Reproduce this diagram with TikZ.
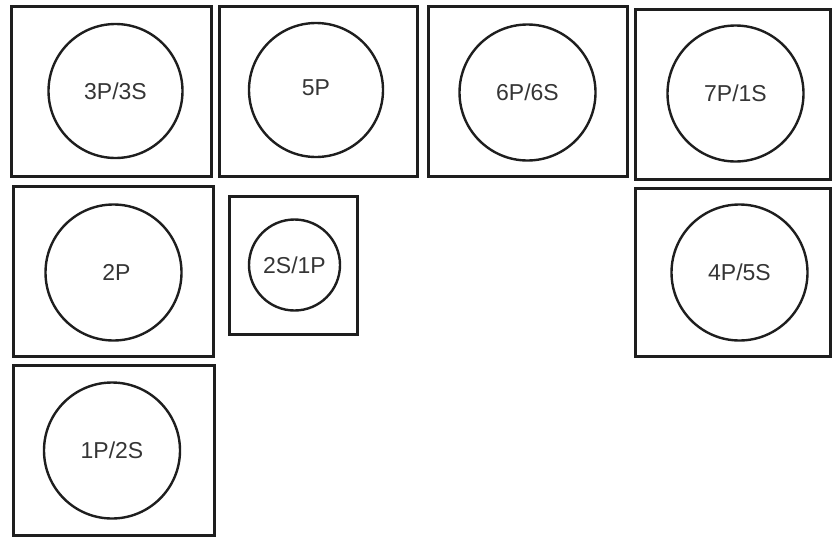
\documentclass[tikz,border=0pt]{standalone}
\usepackage{fontspec}
\setmainfont{Liberation Sans}
\definecolor{ink}{HTML}{1E1E1E}
\begin{document}
\begin{tikzpicture}[x=1pt,y=-1pt,
  box/.style={draw=ink,line width=3pt,rectangle,inner sep=0pt},
  ring/.style={draw=ink,line width=2.4pt,circle,inner sep=0pt,minimum size=134pt,
    font=\fontsize{23}{23}\selectfont,text=ink!90}]
\useasboundingbox (0,0) rectangle (832,538);
% boxes
\node[box,minimum width=200pt,minimum height=170pt] (b1) at (111.5,91.5) {};
\node[box,minimum width=198pt,minimum height=170pt] (b2) at (318,91.5) {};
\node[box,minimum width=199pt,minimum height=170pt] (b3) at (527.5,91.5) {};
\node[box,minimum width=195pt,minimum height=170pt] (b4) at (733,94) {};
\node[box,minimum width=200pt,minimum height=170pt] (b5) at (113,271.5) {};
\node[box,minimum width=128pt,minimum height=138pt] (b6) at (293.5,265.5) {};
\node[box,minimum width=201pt,minimum height=170pt] (b7) at (113.5,450) {};
\node[box,minimum width=195pt,minimum height=168pt] (b8) at (732.5,272.5) {};
% circles
\node[ring] (c1) at (115.5,91) {3P/3S};
\node[ring] (c2) at (316,90) {\raisebox{4pt}{5P}};
\node[ring,minimum size=136pt] (c3) at (527.5,92.5) {6P/6S};
\node[ring,minimum size=136pt] (c4) at (735.5,93.5) {7P/1S};
\node[ring,minimum size=136pt] (c5) at (113.5,272.5) {\hspace*{6pt}2P};
\node[ring,minimum size=91pt] (c6) at (294.5,265) {2S/1P};
\node[ring,minimum size=136pt] (c7) at (112,450.5) {1P/2S};
\node[ring,minimum size=136pt] (c8) at (739.5,272.5) {4P/5S};
\end{tikzpicture}
\end{document}
